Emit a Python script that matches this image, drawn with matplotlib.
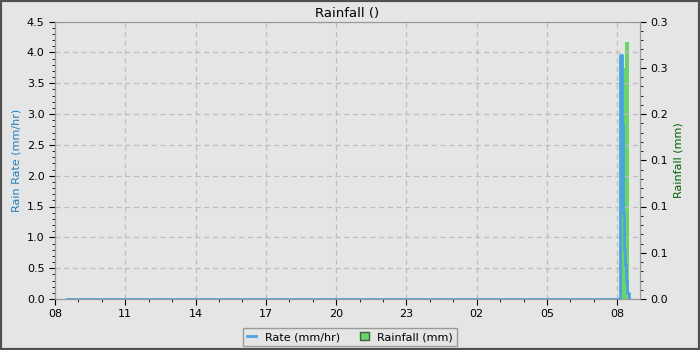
import matplotlib
matplotlib.use("Agg")
import matplotlib.pyplot as plt
import matplotlib.dates as mdates
from matplotlib.lines import Line2D
from matplotlib.patches import Patch, Rectangle
from matplotlib.ticker import MultipleLocator, FixedLocator, FixedFormatter
import pandas as pd

# ---- data ----
rate_times = ["2024-01-01 08:30", "2024-01-02 08:06", "2024-01-02 08:07",
              "2024-01-02 08:12", "2024-01-02 08:13", "2024-01-02 08:14",
              "2024-01-02 08:16", "2024-01-02 08:19", "2024-01-02 08:22",
              "2024-01-02 08:25", "2024-01-02 08:29"]
rate_values = [0.0, 0.0, 3.95, 3.95, 2.85, 1.40, 0.80, 0.55, 0.30, 0.10, 0.02]

rain_times = ["2024-01-02 08:10", "2024-01-02 08:15", "2024-01-02 08:20",
              "2024-01-02 08:25"]
rain_values = [0.214, 0.25, 0.278, 0.278]

x_start = "2024-01-01 08:00"
x_end = "2024-01-02 08:58"

left_ticks = [0.0, 0.5, 1.0, 1.5, 2.0, 2.5, 3.0, 3.5, 4.0, 4.5]
right_ticks = [0.0, 0.05, 0.10, 0.15, 0.20, 0.25, 0.30]
right_labels = ["0.0", "0.1", "0.1", "0.1", "0.2", "0.3", "0.3"]

title = "Rainfall ()"
left_label = "Rain Rate (mm/hr)"
right_label = "Rainfall (mm)"

BG = "#e5e5e5"
BLUE = "#4aa3df"
GREEN = "#6ad46a"

rt = pd.to_datetime(rate_times)
bt = pd.to_datetime(rain_times)

fig = plt.figure(figsize=(7, 3.5), dpi=100, facecolor=BG)
fig.patches.append(Rectangle((0, 0), 1, 1, transform=fig.transFigure,
                             fill=False, edgecolor="#505050", linewidth=3))
ax = fig.add_axes([55/700, 1-299/350, 585/700, (299-21.5)/350])
ax2 = ax.twinx()
ax.set_zorder(ax2.get_zorder() + 1)
ax.patch.set_visible(False)
ax2.set_facecolor(BG)

width = pd.Timedelta(minutes=5) / pd.Timedelta(days=1)
ax2.bar(mdates.date2num(bt), rain_values, width=width, align="edge",
        color=GREEN, edgecolor="none")
ax.plot(rt, rate_values, color=BLUE, linewidth=2, drawstyle="steps-post")

ax.set_xlim(pd.Timestamp(x_start), pd.Timestamp(x_end))
ax.set_ylim(0, 4.5)
ax2.set_ylim(0, 0.3)

ax.yaxis.set_major_locator(FixedLocator(left_ticks))
ax.yaxis.set_major_formatter(matplotlib.ticker.FormatStrFormatter("%.1f"))
ax.yaxis.set_minor_locator(MultipleLocator(0.1))
ax2.yaxis.set_major_locator(FixedLocator(right_ticks))
ax2.yaxis.set_major_formatter(FixedFormatter(right_labels))
ax2.yaxis.set_minor_locator(MultipleLocator(0.01))

ax.xaxis.set_major_locator(mdates.HourLocator(byhour=range(2, 24, 3)))
ax.xaxis.set_major_formatter(mdates.DateFormatter("%H"))
ax.xaxis.set_minor_locator(mdates.HourLocator())

for a in (ax, ax2):
    for s in a.spines.values():
        s.set_color("#999999")
    a.tick_params(which="major", length=4, labelsize=8, color="black", direction="out")
    a.tick_params(which="minor", length=2, color="black", direction="out")

ax.grid(True, which="major", color="#bdbdbd", linestyle=(0, (4, 3)), linewidth=0.9)

ax.set_title(title, fontsize=9.5, pad=3)
ax.set_ylabel(left_label, color="#2080c0", fontsize=8, labelpad=4)
ax2.set_ylabel(right_label, color="#006400", fontsize=8, labelpad=4)

handles = [Line2D([0], [0], color=BLUE, linewidth=2),
           Patch(facecolor=GREEN, edgecolor="#406040")]
leg = fig.legend(handles, ["Rate (mm/hr)", "Rainfall (mm)"], loc="center",
                 bbox_to_anchor=(0.5, 1-337/350), ncol=2, fontsize=8,
                 frameon=True, fancybox=False, facecolor=BG, edgecolor="#888888",
                 handlelength=0.8, handleheight=0.8, columnspacing=1.8,
                 borderpad=0.35, handletextpad=0.8)
leg.get_frame().set_linewidth(1)

fig.savefig("out.png", dpi=100, facecolor=BG)
